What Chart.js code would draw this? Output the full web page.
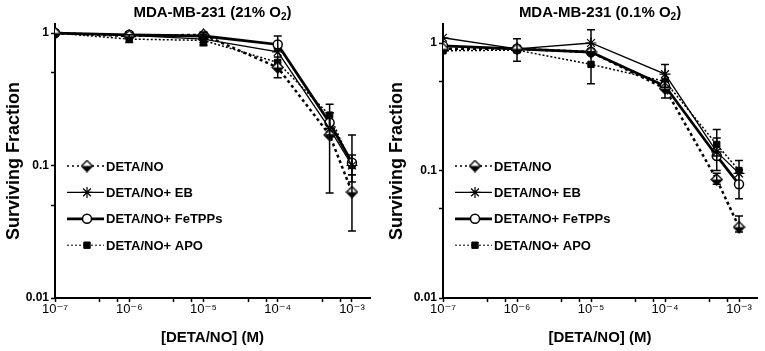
<!DOCTYPE html>
<html>
<head>
<meta charset="utf-8">
<script src="https://cdn.jsdelivr.net/npm/chart.js@4.4.1/dist/chart.umd.min.js"></script>
<style>
  body { margin: 0; background: #fff; }
  #wrap { display: flex; width: 765px; height: 351px; }
</style>
</head>
<body>
<div id="wrap">
  <canvas id="normoxia" width="383" height="351"></canvas>
  <canvas id="hypoxia" width="382" height="351"></canvas>
</div>
<script>
// DETA/NO doses (M)
const doses = [1e-7, 1e-6, 1e-5, 1e-4, 5e-4, 1e-3];
const seriesNames = ['DETA/NO', 'DETA/NO+ EB', 'DETA/NO+ FeTPPs', 'DETA/NO+ APO'];
const xTickValues = [1e-7, 1e-6, 1e-5, 1e-4, 1e-3];
const xTickLabels = ['10⁻⁷', '10⁻⁶', '10⁻⁵', '10⁻⁴', '10⁻³'];
const yTickValues = [0.01, 0.1, 1];
const yTickLabels = ['0.01', '0.1', '1'];

// surviving fraction, 21% O2
const normDeta = [1.0, 0.95, 0.97, 0.55, 0.17, 0.063];
const normEb = [1.0, 0.96, 0.90, 0.72, 0.19, 0.10];
const normFe = [1.0, 0.97, 0.95, 0.82, 0.21, 0.105];
const normApo = [1.0, 0.90, 0.88, 0.60, 0.24, 0.10];

// surviving fraction, 0.1% O2
const hypDeta = [0.90, 0.90, 0.85, 0.44, 0.085, 0.036];
const hypEb = [1.10, 0.90, 1.00, 0.57, 0.14, 0.095];
const hypFe = [0.95, 0.90, 0.85, 0.46, 0.13, 0.078];
const hypApo = [0.87, 0.88, 0.68, 0.50, 0.16, 0.10];

// error bars [low, high], null where none is visible
const normDetaErr = [null, null, [0.92, 1.02], [0.46, 0.66], [0.062, 0.25], [0.032, 0.085]];
const normEbErr = [null, null, [0.82, 1.0], null, null, [0.075, 0.17]];
const normFeErr = [null, null, null, [0.74, 0.95], [0.17, 0.25], null];
const normApoErr = [null, [0.85, 0.97], [0.80, 0.97], null, [0.19, 0.29], [0.085, 0.12]];

const hypDetaErr = [null, null, null, [0.37, 0.50], [0.078, 0.095], [0.033, 0.044]];
const hypEbErr = [null, [0.72, 1.08], [0.85, 1.27], [0.45, 0.68], null, null];
const hypFeErr = [null, null, null, null, [0.10, 0.21], [0.06, 0.12]];
const hypApoErr = [null, null, [0.48, 0.85], null, [0.13, 0.18], null];

const FONT = "'Liberation Sans', 'DejaVu Sans', Arial, sans-serif";

// half filled diamond marker
function halfDiamond() {
    const c = document.createElement('canvas');
    c.width = 13; c.height = 13;
    const g = c.getContext('2d');
    g.beginPath(); g.moveTo(6.5, 1); g.lineTo(12, 6.5); g.lineTo(6.5, 12); g.lineTo(1, 6.5); g.closePath();
    g.fillStyle = '#fff'; g.fill();
    g.beginPath(); g.moveTo(1, 6.5); g.lineTo(12, 6.5); g.lineTo(6.5, 12); g.closePath();
    g.fillStyle = '#000'; g.fill();
    g.beginPath(); g.moveTo(6.5, 1); g.lineTo(12, 6.5); g.lineTo(6.5, 12); g.lineTo(1, 6.5); g.closePath();
    g.strokeStyle = '#000'; g.lineWidth = 1.3; g.stroke();
    return c;
}
const diamondImg = halfDiamond();

const seriesStyles = [
    { borderWidth: 2.5, borderDash: [3, 3], legendWidth: 1.5, legendDash: [2, 3], pointStyle: diamondImg, pointRadius: 5, pointBackgroundColor: '#000', pointBorderWidth: 1 },
    { borderWidth: 1.3, borderDash: [], legendWidth: 1.3, legendDash: [], pointStyle: 'star', pointRadius: 5.5, pointBackgroundColor: '#000', pointBorderWidth: 1.2 },
    { borderWidth: 2.8, borderDash: [], legendWidth: 2.8, legendDash: [], pointStyle: 'circle', pointRadius: 4.5, pointBackgroundColor: '#fff', pointBorderWidth: 1.5 },
    { borderWidth: 1.5, borderDash: [2, 2], legendWidth: 1, legendDash: [2, 2], pointStyle: 'rect', pointRadius: 4.5, pointBackgroundColor: '#000', pointBorderWidth: 1 }
];

// vertical error bars with caps
const errorBars = {
    id: 'errorBars',
    afterDatasetsDraw(chart) {
        const { ctx, scales: { x, y } } = chart;
        ctx.save();
        ctx.strokeStyle = '#000';
        ctx.lineWidth = 1.5;
        chart.data.datasets.forEach(ds => {
            ds.errors.forEach((e, i) => {
                if (!e) return;
                const px = x.getPixelForValue(doses[i]);
                const lo = y.getPixelForValue(e[0]);
                const hi = y.getPixelForValue(e[1]);
                ctx.beginPath();
                ctx.moveTo(px, lo); ctx.lineTo(px, hi);
                ctx.moveTo(px - 4, lo); ctx.lineTo(px + 4, lo);
                ctx.moveTo(px - 4, hi); ctx.lineTo(px + 4, hi);
                ctx.stroke();
            });
        });
        ctx.restore();
    }
};

// legend drawn inside the plot area
const insideLegend = {
    id: 'insideLegend',
    afterDraw(chart) {
        const { ctx, chartArea } = chart;
        const x0 = chartArea.left;
        ctx.save();
        chart.data.datasets.forEach((ds, i) => {
            const yy = 166 + i * 26.4;
            const st = seriesStyles[i];
            ctx.strokeStyle = '#000';
            ctx.lineWidth = st.legendWidth;
            ctx.setLineDash(st.legendDash);
            ctx.beginPath();
            ctx.moveTo(x0 + 12, yy); ctx.lineTo(x0 + 49, yy);
            ctx.stroke();
            ctx.setLineDash([]);
            ctx.fillStyle = st.pointBackgroundColor;
            ctx.lineWidth = st.pointBorderWidth;
            Chart.helpers.drawPoint(ctx, { pointStyle: st.pointStyle, radius: st.pointRadius, borderWidth: st.pointBorderWidth, rotation: 0 }, x0 + 32, yy);
            ctx.fillStyle = '#000';
            ctx.font = 'bold 13px ' + FONT;
            ctx.textBaseline = 'middle';
            ctx.fillText(ds.label, x0 + 51, yy + 1);
        });
        ctx.restore();
    }
};

// panel title with subscript
const panelTitle = {
    id: 'panelTitle',
    afterDraw(chart, args, opts) {
        const { ctx, chartArea } = chart;
        ctx.save();
        ctx.fillStyle = '#000';
        ctx.textBaseline = 'alphabetic';
        ctx.font = 'bold 15px ' + FONT;
        const w1 = ctx.measureText(opts.head).width;
        const w3 = ctx.measureText(opts.tail).width;
        ctx.font = 'bold 10px ' + FONT;
        const w2 = ctx.measureText(opts.sub).width;
        let x = (chartArea.left + chartArea.right) / 2 - (w1 + w2 + w3) / 2;
        const base = 17;
        ctx.font = 'bold 15px ' + FONT;
        ctx.fillText(opts.head, x, base);
        x += w1;
        ctx.font = 'bold 10px ' + FONT;
        ctx.fillText(opts.sub, x, base + 3);
        x += w2;
        ctx.font = 'bold 15px ' + FONT;
        ctx.fillText(opts.tail, x, base);
        ctx.restore();
    }
};

function makePanel(id, title, values, errors, yMax, axisWidth, padRight) {
    const datasets = values.map((vals, i) => Object.assign({
        label: seriesNames[i],
        data: vals.map((v, k) => ({ x: doses[k], y: v })),
        errors: errors[i],
        borderColor: '#000',
        pointBorderColor: '#000',
        tension: 0
    }, seriesStyles[i]));

    return new Chart(document.getElementById(id), {
        type: 'line',
        data: { datasets: datasets },
        options: {
            responsive: false,
            animation: false,
            devicePixelRatio: 1,
            layout: { padding: { top: 24, right: padRight, bottom: 0, left: 0 } },
            plugins: {
                legend: { display: false },
                tooltip: { enabled: false },
                panelTitle: title
            },
            scales: {
                x: {
                    type: 'logarithmic',
                    min: 1e-7,
                    max: 1.75e-3,
                    afterBuildTicks(scale) {
                        const t = [];
                        xTickValues.forEach((v, i) => {
                            t.push({ value: v });
                            if (i < xTickValues.length - 1) {
                                t.push({ value: v * 4 });
                                t.push({ value: v * 7 });
                            }
                        });
                        scale.ticks = t;
                    },
                    afterFit(scale) { scale.height = 53; },
                    ticks: {
                        autoSkip: false,
                        maxRotation: 0,
                        padding: 0,
                        color: '#000',
                        font: { family: FONT, size: 13 },
                        callback: v => {
                            const k = xTickValues.indexOf(v);
                            return k >= 0 ? xTickLabels[k] : '';
                        }
                    },
                    grid: { drawOnChartArea: false, tickLength: 4, tickColor: '#000', tickWidth: 1.5 },
                    border: { color: '#000', width: 2 },
                    title: {
                        display: true,
                        text: '[DETA/NO] (M)',
                        color: '#000',
                        font: { family: FONT, size: 15, weight: 'bold' },
                        padding: { top: 0, bottom: 4 }
                    }
                },
                y: {
                    type: 'logarithmic',
                    min: 0.01,
                    max: yMax,
                    afterBuildTicks(scale) {
                        scale.ticks = [0.01, 0.05, 0.1, 0.5, 1].map(v => ({ value: v }));
                    },
                    afterFit(scale) { scale.width = axisWidth; },
                    ticks: {
                        autoSkip: false,
                        padding: 2,
                        color: '#000',
                        font: { family: FONT, size: 12, weight: 'bold' },
                        callback: v => {
                            const k = yTickValues.indexOf(v);
                            return k >= 0 ? yTickLabels[k] : '';
                        }
                    },
                    grid: { drawOnChartArea: false, tickLength: 4, tickColor: '#000', tickWidth: 1.5 },
                    border: { color: '#000', width: 2 },
                    title: {
                        display: true,
                        text: 'Surviving Fraction',
                        color: '#000',
                        font: { family: FONT, size: 18, weight: 'bold' },
                        padding: { top: 3, bottom: 0 }
                    }
                }
            }
        },
        plugins: [errorBars, insideLegend, panelTitle]
    });
}

makePanel('normoxia', { head: 'MDA-MB-231 (21% O', sub: '2', tail: ')' },
    [normDeta, normEb, normFe, normApo],
    [normDetaErr, normEbErr, normFeErr, normApoErr],
    1.17, 55, 13);

makePanel('hypoxia', { head: 'MDA-MB-231 (0.1% O', sub: '2', tail: ')' },
    [hypDeta, hypEb, hypFe, hypApo],
    [hypDetaErr, hypEbErr, hypFeErr, hypApoErr],
    1.41, 60, 8);
</script>
</body>
</html>
